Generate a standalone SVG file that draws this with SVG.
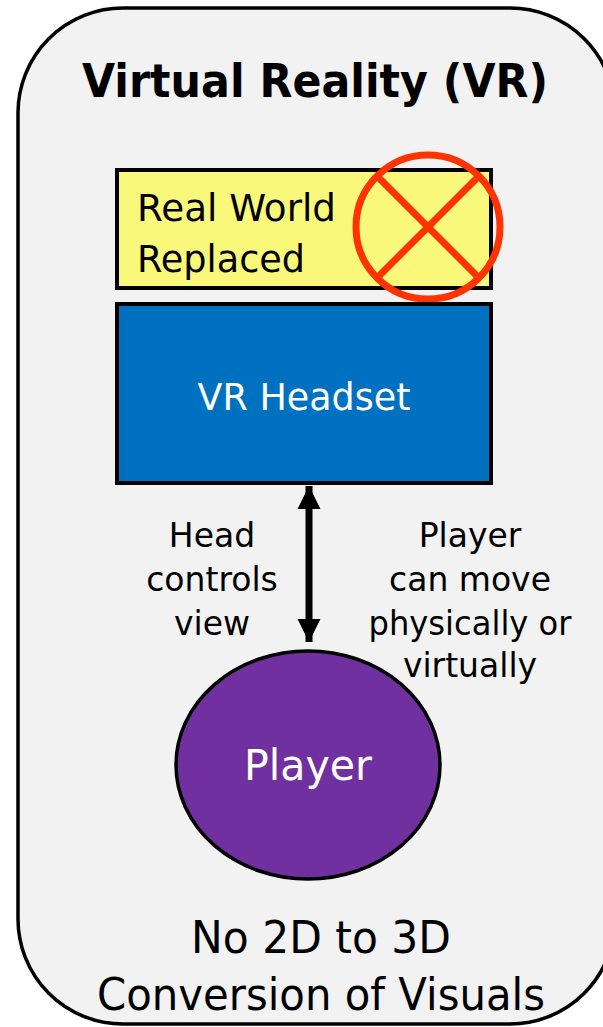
<svg xmlns="http://www.w3.org/2000/svg" width="603" height="1027" viewBox="0 0 603 1027">
<defs>
<style>
.t{font-family:"DejaVu Sans","Verdana",sans-serif;text-anchor:middle;fill:#000}
.w{fill:#fff}
.l{font-size:33px}
</style>
<marker id="ah" viewBox="0 0 10 10" refX="10" refY="5" markerWidth="3.3" markerHeight="3.3" orient="auto-start-reverse" markerUnits="strokeWidth">
<path d="M0,0 L10,5 L0,10 z" fill="#000"/>
</marker>
</defs>
<g id="frame">
<rect x="18" y="8" width="597" height="1016" rx="105" ry="105" fill="#F2F2F2" stroke="#000" stroke-width="3.5"/>
<text class="t" x="315" y="97" font-size="47" font-weight="bold" textLength="466" lengthAdjust="spacingAndGlyphs">Virtual Reality (VR)</text>
</g>
<g id="real-world">
<rect x="117" y="170" width="374" height="118" fill="#F9F87A" stroke="#000" stroke-width="4"/>
<text class="t" x="137" y="221" font-size="37" style="text-anchor:start" textLength="199" lengthAdjust="spacingAndGlyphs">Real World</text>
<text class="t" x="137" y="272" font-size="37" style="text-anchor:start" textLength="168" lengthAdjust="spacingAndGlyphs">Replaced</text>
<circle cx="428" cy="227" r="72" fill="none" stroke="#FF3300" stroke-width="7"/>
<line x1="377" y1="176" x2="479" y2="278" stroke="#FF3300" stroke-width="7"/>
<line x1="479" y1="176" x2="377" y2="278" stroke="#FF3300" stroke-width="7"/>
</g>
<g id="headset">
<rect x="117" y="304" width="374" height="179" fill="#0070C0" stroke="#000" stroke-width="4"/>
<text class="t w" x="304" y="410" font-size="37" textLength="213" lengthAdjust="spacingAndGlyphs">VR Headset</text>
</g>
<g id="player">
<ellipse cx="308" cy="765" rx="132" ry="114" fill="#7030A0" stroke="#000" stroke-width="3.5"/>
<text class="t w" x="308" y="780" font-size="42" textLength="128" lengthAdjust="spacingAndGlyphs">Player</text>
</g>
<g id="connectors">
<line x1="309" y1="486" x2="309" y2="642" stroke="#000" stroke-width="7" marker-start="url(#ah)" marker-end="url(#ah)"/>
</g>
<g id="labels">
<text class="t l" x="212" y="547">Head</text>
<text class="t l" x="212" y="591">controls</text>
<text class="t l" x="212" y="635">view</text>
<text class="t l" x="470" y="547">Player</text>
<text class="t l" x="470" y="591">can move</text>
<text class="t l" x="470" y="635" textLength="203" lengthAdjust="spacingAndGlyphs">physically or</text>
<text class="t l" x="470" y="677">virtually</text>
<text class="t" x="321" y="953" font-size="44" textLength="260" lengthAdjust="spacingAndGlyphs">No 2D to 3D</text>
<text class="t" x="321" y="1010" font-size="44" textLength="448" lengthAdjust="spacingAndGlyphs">Conversion of Visuals</text>
</g>
</svg>
